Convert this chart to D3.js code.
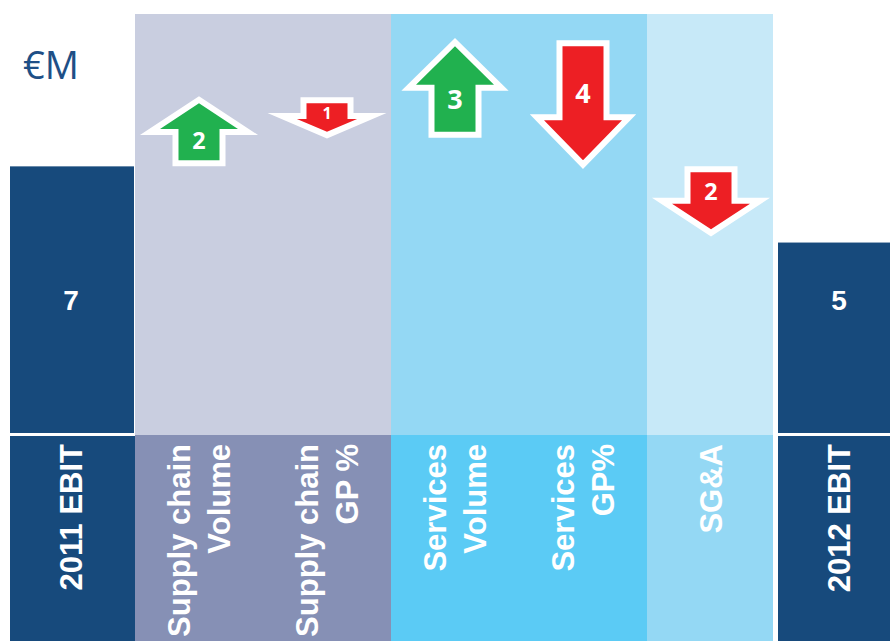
<!DOCTYPE html>
<html>
<head>
<meta charset="utf-8">
<script src="https://cdn.jsdelivr.net/npm/d3@7"></script>
<style>
  html, body { margin: 0; padding: 0; background: #ffffff; }
  svg { display: block; }
</style>
</head>
<body>
<svg id="chart" width="890" height="641"></svg>
<script>
// EBIT bridge 2011 -> 2012, €M
const categories = ["2011 EBIT", "Supply chain\nVolume", "Supply chain\nGP %", "Services\nVolume", "Services\nGP%", "SG&A", "2012 EBIT"];
const groups     = ["2011 EBIT", "Supply chain", "Supply chain", "Services", "Services", "SG&A", "2012 EBIT"];
const kinds      = ["total", "delta", "delta", "delta", "delta", "delta", "total"];
const values     = [7, 2, -1, 3, -4, -2, 5];
const unitLabel  = "€M";

// Styling
const W = 890, H = 641;
const navy = "#174A7C";
const panelFill = {
  "Supply chain": { top: "#C9CEE0", label: "#8690B5" },
  "Services":     { top: "#94D8F4", label: "#5BCBF5" },
  "SG&A":         { top: "#C7E9F8", label: "#94D8F4" }
};
const upFill = "#21B14F", downFill = "#ED1F24";

const svg = d3.select("#chart");

// Running totals of the bridge
const running = [];
let acc = 0;
values.forEach((v, i) => {
  const start = kinds[i] === "total" ? 0 : acc;
  const end = kinds[i] === "total" ? v : acc + v;
  running.push({ start, end });
  acc = end;
});
const maxLevel = d3.max(running, d => Math.max(d.start, d.end));

const x = d3.scaleBand().domain(categories).range([7, 903]).padding(0);
const y = d3.scaleLinear().domain([0, maxLevel]).range([433, 14]);
const labelTop = 435;
const bw = x.bandwidth();
const cx = c => x(c) + bw / 2;

// Background panels for each driver group (chart part and label part)
const deltaIdx = d3.range(categories.length).filter(i => kinds[i] === "delta");
const panelGroups = d3.groups(deltaIdx, i => groups[i]);
panelGroups.forEach(([g, idx]) => {
  const x0 = x(categories[idx[0]]);
  const x1 = x(categories[idx[idx.length - 1]]) + bw - (g === "SG&A" ? 2 : 0);
  svg.append("rect").attr("x", x0).attr("y", y(maxLevel))
    .attr("width", x1 - x0).attr("height", labelTop - y(maxLevel))
    .attr("fill", panelFill[g].top);
  svg.append("rect").attr("x", x0).attr("y", labelTop)
    .attr("width", x1 - x0).attr("height", H - labelTop)
    .attr("fill", panelFill[g].label);
});

// Total bars and their label cells
const totalIdx = d3.range(categories.length).filter(i => kinds[i] === "total");
const totalLabelY = y(d3.max(totalIdx, i => values[i]) / 2);
totalIdx.forEach(i => {
  const c = categories[i];
  svg.append("rect").attr("x", x(c) + 3).attr("y", y(values[i]))
    .attr("width", bw - 4).attr("height", y(0) - y(values[i]))
    .attr("fill", navy);
  svg.append("rect").attr("x", x(c) + 3).attr("y", labelTop + 1)
    .attr("width", bw - 3).attr("height", H - labelTop - 1)
    .attr("fill", navy);
  svg.append("text").attr("x", cx(c)).attr("y", totalLabelY + 10)
    .attr("text-anchor", "middle")
    .attr("font-family", "Liberation Sans, Arial, sans-serif")
    .attr("font-weight", 700).attr("font-size", 28)
    .attr("fill", "#ffffff").text(values[i]);
});

// Change arrows, chained one after another
const arrowLen = d3.scaleLinear().domain([0, 1]).range([0, 28.5]);
const arrowFont = d3.scaleLinear().domain([1, 2.5]).range([16, 27]).clamp(true);
const shaftHalf = 20.5, outline = 6;
let cursor = y(values[0]);
deltaIdx.forEach(i => {
  const v = values[i];
  const s = v > 0 ? 1 : -1;
  const L = arrowLen(Math.abs(v));
  const tail = cursor - s * outline;
  const tip = tail - s * L;
  cursor = tip - s * outline;
  const h = Math.min(0.45 * L, 40);
  const hw = Math.min(39, (2 * shaftHalf + 1.5 * h) / 2);
  const base = tip + s * h;
  const c = cx(categories[i]);
  const pts = [
    [c - shaftHalf, tail], [c - shaftHalf, base], [c - hw, base], [c, tip],
    [c + hw, base], [c + shaftHalf, base], [c + shaftHalf, tail]
  ];
  svg.append("path")
    .attr("d", d3.line()(pts) + "Z")
    .attr("fill", s > 0 ? upFill : downFill)
    .attr("stroke", "#ffffff").attr("stroke-width", outline * 2)
    .attr("stroke-linejoin", "miter").attr("stroke-miterlimit", 8)
    .attr("paint-order", "stroke");
  const fs = arrowFont(Math.abs(v));
  const ly = (tail + tip) / 2 + s * Math.min(10, 0.35 * h);
  svg.append("text").attr("x", c).attr("y", ly + fs * 0.36)
    .attr("text-anchor", "middle")
    .attr("font-family", "Open Sans, sans-serif")
    .attr("font-weight", 700).attr("font-size", fs)
    .attr("fill", "#ffffff").text(Math.abs(v));
});

// Rotated category labels
const catFont = 31, lineGap = 40, capH = catFont * 0.72;
categories.forEach(c => {
  const lines = c.split("\n");
  const n = lines.length;
  lines.forEach((line, k) => {
    const bx = cx(c) + capH / 2 + (k - (n - 1) / 2) * lineGap;
    svg.append("text")
      .attr("transform", `translate(${bx},444) rotate(-90)`)
      .attr("text-anchor", "end")
      .attr("font-family", "Liberation Sans, Arial, sans-serif")
      .attr("font-weight", 700).attr("font-size", catFont)
      .attr("fill", "#ffffff").text(line);
  });
});

// Unit
svg.append("text").attr("x", 23).attr("y", 79)
  .attr("font-family", "Open Sans, sans-serif")
  .attr("font-size", 38).attr("fill", "#1E4F86").text(unitLabel);
</script>
</body>
</html>
